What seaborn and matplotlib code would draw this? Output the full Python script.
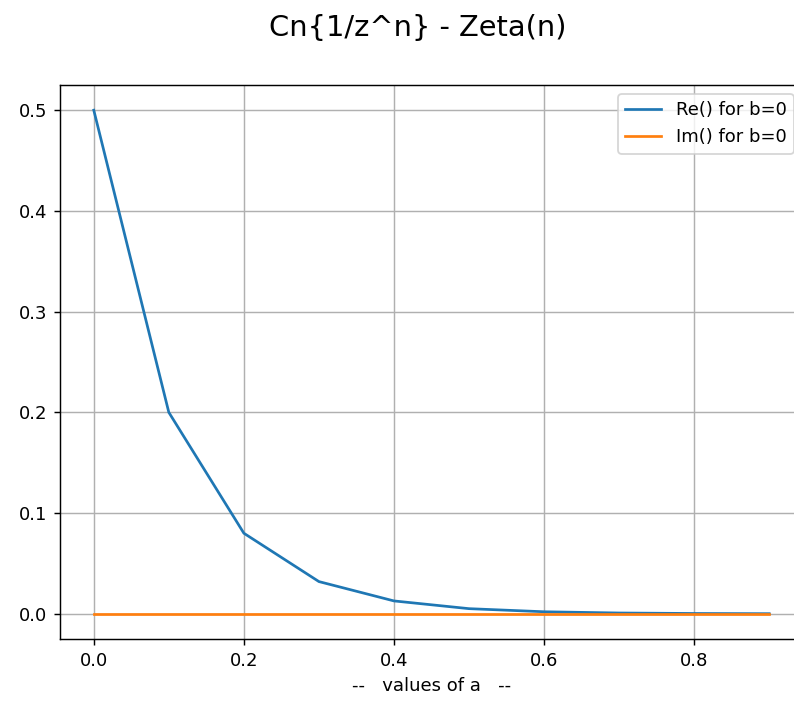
import pandas as pd
import matplotlib
matplotlib.use("Agg")
import matplotlib.pyplot as plt
import seaborn as sns

# values
a_values = [0.0, 0.1, 0.2, 0.3, 0.4, 0.5, 0.6, 0.7, 0.8, 0.9]
re_values = [0.5, 0.2, 0.08, 0.032, 0.0128, 0.00512, 0.002048, 0.00082, 0.00033, 0.00013]
im_values = [0.0, 0.0, 0.0, 0.0, 0.0, 0.0, 0.0, 0.0, 0.0, 0.0]

df = pd.DataFrame({"a": a_values, "re": re_values, "im": im_values})

DPI = 130
fig = plt.figure(figsize=(794 / DPI, 703 / DPI), dpi=DPI)
ax = fig.add_axes([60 / 794, 1 - 639 / 703, 743 / 794, 554 / 703])

sns.lineplot(data=df, x="a", y="re", ax=ax, label="Re() for b=0", color="#1f77b4")
sns.lineplot(data=df, x="a", y="im", ax=ax, label="Im() for b=0", color="#ff7f0e")

ax.grid(True)
ax.set_xlabel("--   values of a   --")
ax.set_ylabel("")
ax.legend(loc="upper right")
fig.text(418 / 794, 1 - 28 / 703, "Cn{1/z^n} - Zeta(n)", ha="center", va="center", fontsize=16)

fig.savefig("out.png", dpi=DPI)
